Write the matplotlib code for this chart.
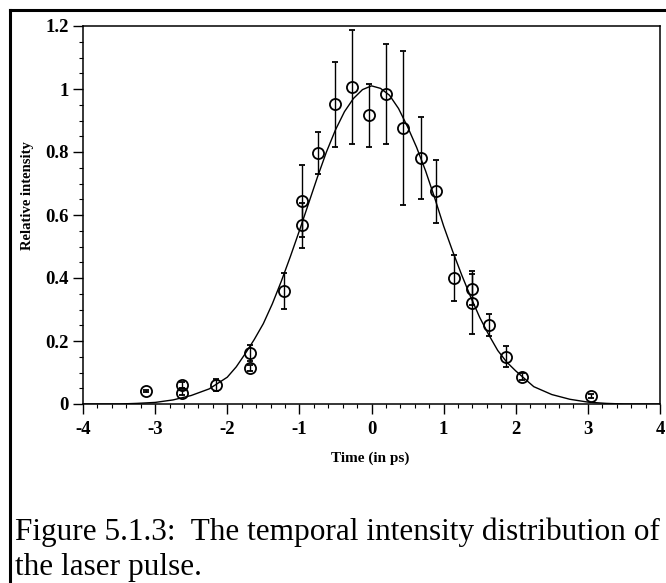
import matplotlib
matplotlib.use("Agg")
import matplotlib.pyplot as plt
from matplotlib.lines import Line2D
from matplotlib.ticker import MultipleLocator

# points de mesure (temps en ps, intensité relative, barre d'erreur)
temps = [-3.12, -2.63, -2.63, -2.15, -1.68, -1.68, -1.21, -0.97, -0.97, -0.74,
         -0.50, -0.27, -0.04, 0.20, 0.43, 0.68, 0.90, 1.14, 1.39, 1.39,
         1.63, 1.87, 2.08, 3.04]
intensite = [0.041, 0.060, 0.036, 0.060, 0.162, 0.114, 0.359, 0.645, 0.567, 0.797,
             0.952, 1.006, 0.917, 0.984, 0.877, 0.781, 0.676, 0.400, 0.364, 0.321,
             0.250, 0.150, 0.087, 0.025]
erreur = [0.002, 0.010, 0.008, 0.020, 0.025, 0.010, 0.057, 0.115, 0.072, 0.068,
          0.135, 0.180, 0.100, 0.160, 0.245, 0.130, 0.100, 0.073, 0.050, 0.100,
          0.035, 0.033, 0.010, 0.006]

# courbe d'ajustement
temps_fit = [-4.0, -3.75, -3.5, -3.25, -3.0, -2.75, -2.5, -2.25,
             -2.0, -1.875, -1.75, -1.625, -1.5, -1.375, -1.25, -1.125,
             -1.0, -0.875, -0.75, -0.625, -0.5, -0.375, -0.25, -0.125,
             0.0, 0.125, 0.25, 0.375, 0.5, 0.625, 0.75, 0.875,
             1.0, 1.125, 1.25, 1.375, 1.5, 1.625, 1.75, 1.875,
             2.0, 2.25, 2.5, 2.75, 3.0, 3.25, 3.5, 3.75, 4.0]
intensite_fit = [0.0, 0.0, 0.0, 0.002, 0.005, 0.013, 0.027, 0.048,
                 0.085, 0.118, 0.160, 0.205, 0.255, 0.318, 0.390, 0.468,
                 0.550, 0.635, 0.720, 0.800, 0.870, 0.928, 0.970, 0.998,
                 1.010, 1.002, 0.980, 0.938, 0.880, 0.815, 0.740, 0.655,
                 0.565, 0.485, 0.410, 0.340, 0.275, 0.220, 0.170, 0.133,
                 0.105, 0.055, 0.030, 0.015, 0.006, 0.002, 0.0, 0.0, 0.0]

x_ticks = [-4, -3, -2, -1, 0, 1, 2, 3, 4]
y_ticks = [0, 0.2, 0.4, 0.6, 0.8, 1.0, 1.2]
y_labels = ["0", "0.2", "0.4", "0.6", "0.8", "1", "1.2"]

plt.rcParams["font.family"] = ["Liberation Serif", "DejaVu Serif"]
plt.rcParams["axes.unicode_minus"] = False

W, H = 666, 583
fig = plt.figure(figsize=(W / 100, H / 100), dpi=100)
ax = fig.add_axes([83 / W, 1 - 404 / H, 577 / W, 378 / H])

ax.plot(temps_fit, intensite_fit, color="black", linewidth=1.0)
ax.errorbar(temps, intensite, yerr=erreur, fmt="o", markersize=8,
            markerfacecolor="none", markeredgecolor="black", markeredgewidth=1.3,
            ecolor="black", elinewidth=1.0, capsize=2.5, capthick=1.0, color="black")

ax.set_xlim(-4, 4)
ax.set_ylim(0, 1.2)
ax.set_xticks(x_ticks)
ax.set_xticklabels([str(v) for v in x_ticks])
ax.set_yticks(y_ticks)
ax.set_yticklabels(y_labels)
ax.xaxis.set_minor_locator(MultipleLocator(0.2))
ax.yaxis.set_minor_locator(MultipleLocator(0.05))
ax.tick_params(which="major", direction="out", length=7, width=1.0,
               labelsize=13.5, top=False, right=False)
ax.tick_params(axis="x", which="major", pad=5)
ax.tick_params(axis="y", which="major", pad=3)
ax.tick_params(which="minor", direction="out", length=3, width=0.8,
               top=False, right=False)
for lab in ax.get_xticklabels() + ax.get_yticklabels():
    lab.set_fontweight("bold")
for sp in ax.spines.values():
    sp.set_linewidth(1.1)

# titres des axes placés en pixels
fig.text(370 / W, 1 - 458 / H, "Time (in ps)", fontsize=11, fontweight="bold",
         ha="center", va="center")
fig.text(28 / W, 1 - 196 / H, "Relative intensity", fontsize=10.5, fontweight="bold",
         rotation=90, ha="center", va="center")

# cadre de la figure scannée
fig.add_artist(Line2D([0.015, 1.0], [0.983, 0.983], transform=fig.transFigure,
                      color="black", linewidth=2.2))
fig.add_artist(Line2D([0.015, 0.015], [0.0, 0.983], transform=fig.transFigure,
                      color="black", linewidth=2.2))

fig.text(0.022, 1 - 540 / H, "Figure 5.1.3:  The temporal intensity distribution of",
         fontsize=22.5, ha="left", va="baseline")
fig.text(0.022, 1 - 575 / H, "the laser pulse.", fontsize=22.5, ha="left", va="baseline")

fig.savefig("out.png", dpi=100)
